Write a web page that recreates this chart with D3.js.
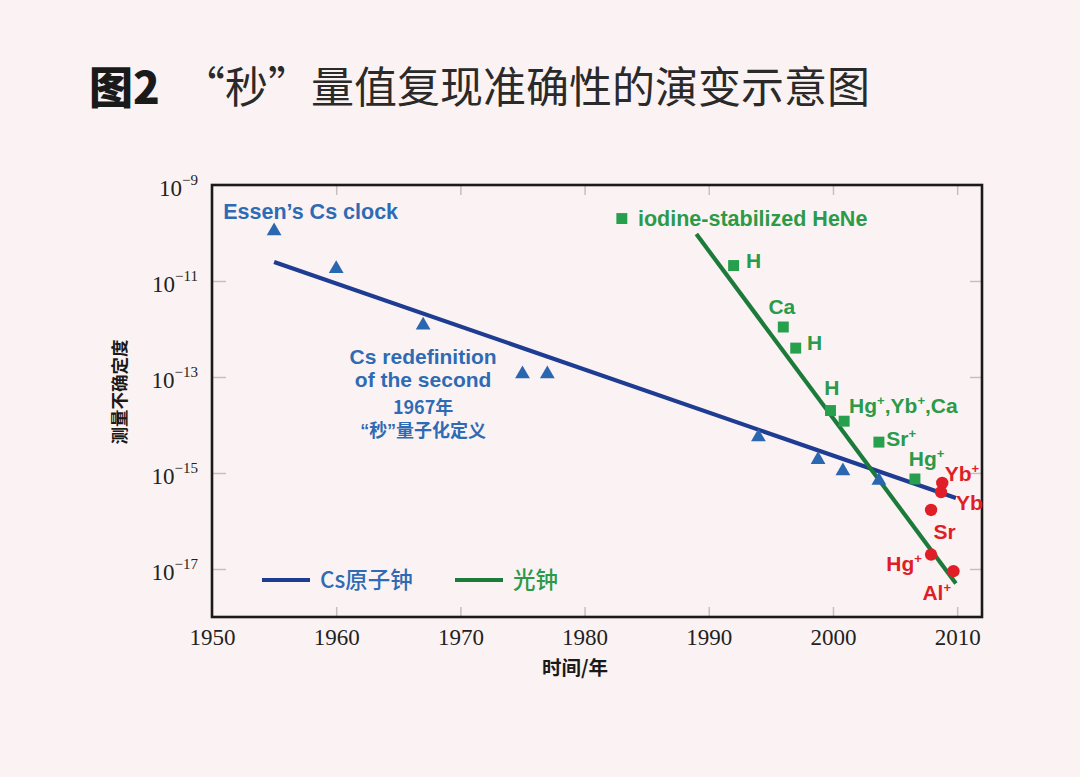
<!DOCTYPE html>
<html><head><meta charset="utf-8">
<script src="https://cdn.jsdelivr.net/npm/d3@7"></script>
<style>
html,body{margin:0;padding:0;background:#fbf3f3;}
svg{display:block;}
</style></head>
<body>
<svg id="chart" width="1080" height="777"></svg>
<script>
// ---- data ----
const xTicks = [1950, 1960, 1970, 1980, 1990, 2000, 2010];
const yTickExps = [-9, -11, -13, -15, -17];

const csYears  = [1955, 1960, 1967, 1975, 1977, 1994, 1998.8, 2000.8, 2003.7];
const csValues = [1.1e-10, 1.8e-11, 1.2e-12, 1.15e-13, 1.15e-13, 5.6e-15, 1.9e-15, 1.1e-15, 7e-16];
const csFitYears  = [1955, 2009.9];
const csFitValues = [2.5e-11, 3.0e-16];

const optYears  = [1983, 1992, 1996, 1997, 1999.8, 2000.9, 2003.7, 2006.6];
const optValues = [2.0e-10, 2.1e-11, 1.1e-12, 4.0e-13, 2.0e-14, 1.2e-14, 4.4e-15, 7.5e-16];
const optLabels = ["iodine-stabilized HeNe", "H", "Ca", "H", "H", "Hg⁺,Yb⁺,Ca", "Sr⁺", "Hg⁺"];

const redYears  = [2008.8, 2008.7, 2007.9, 2007.9, 2009.7];
const redValues = [6.2e-16, 4.0e-16, 1.7e-16, 2.0e-17, 9.0e-18];
const redLabels = ["Yb⁺", "Yb", "Sr", "Hg⁺", "Al⁺"];

const optFitYears  = [1989, 2009.9];
const optFitValues = [9.5e-11, 5.0e-18];

const legendLabels = ["Cs原子钟", "光钟"];
const titleBold = "图2";
const titleText = "“秒”量值复现准确性的演变示意图";
const yTitle = "测量不确定度";
const xTitle = "时间/年";

// annotation anchors in data units (year, value)
const annotations = [
  {t:"Essen’s Cs clock", yr:1950.9, v:2.9e-10, c:"blue", a:"start", s:21.5},
  {t:"Cs redefinition", yr:1967, v:2.7e-13, c:"blue", a:"middle", s:21},
  {t:"of the second", yr:1967, v:9.1e-14, c:"blue", a:"middle", s:21},
  {t:"1967年", yr:1967, v:2.26e-14, c:"blue", a:"middle", s:18},
  {t:"“秒”量子化定义", yr:1967, v:7.5e-15, c:"blue", a:"middle", s:18, lat:true},
  {t:"iodine-stabilized HeNe", yr:1984.3, v:2.0e-10, c:"green", a:"start", s:21.5},
  {t:"H", yr:1993, v:2.7e-11, c:"green", a:"start", s:21},
  {t:"Ca", yr:1994.8, v:2.9e-12, c:"green", a:"start", s:21},
  {t:"H", yr:1997.9, v:5.3e-13, c:"green", a:"start", s:21},
  {t:"H", yr:1999.3, v:6.0e-14, c:"green", a:"start", s:21},
  {t:"Hg⁺,Yb⁺,Ca", yr:2001.3, v:2.6e-14, c:"green", a:"start", s:21},
  {t:"Sr⁺", yr:2004.3, v:5.2e-15, c:"green", a:"start", s:21},
  {t:"Hg⁺", yr:2006.1, v:2.0e-15, c:"green", a:"start", s:21},
  {t:"Yb⁺", yr:2009.0, v:1.0e-15, c:"red", a:"start", s:21},
  {t:"Yb", yr:2009.9, v:2.4e-16, c:"red", a:"start", s:21},
  {t:"Sr", yr:2008.1, v:6.2e-17, c:"red", a:"start", s:21},
  {t:"Hg⁺", yr:2004.3, v:1.33e-17, c:"red", a:"start", s:21},
  {t:"Al⁺", yr:2007.2, v:3.2e-18, c:"red", a:"start", s:21}
];

// ---- styles ----
const COL = {
  blueLine:"#1d3c92", blueMark:"#2b67b1", blueText:"#2f6bb4",
  greenLine:"#1c7b3b", greenMark:"#26a04c", greenText:"#2b9a49",
  red:"#e01e28", frame:"#1a1a1a", tick:"#c4c0c0", text:"#222"
};
const colorOf = {blue:COL.blueText, green:COL.greenText, red:COL.red};
const latin = "'Liberation Sans', Arial, 'Noto Sans CJK SC', sans-serif";
const cjk = "'Noto Sans CJK SC', 'Liberation Sans', sans-serif";
const serif = "'Liberation Serif', 'Times New Roman', serif";

const svg = d3.select("#chart");
svg.append("rect").attr("width",1080).attr("height",777).attr("fill","#fbf3f3");

const L = 212, R = 982, T = 185, B = 617;
const x = d3.scaleLinear().domain([1950, 2012]).range([L, R]);
const y = d3.scaleLog().domain([1e-18, 1e-9]).range([B, T]);

// title
svg.append("text").attr("x", 89).attr("y", 104)
  .attr("font-family", cjk).attr("font-weight", 900).attr("font-size", 44)
  .attr("fill", "#1a1a1a").text(titleBold);
svg.append("text").attr("x", 182).attr("y", 103)
  .attr("font-family", cjk).attr("font-weight", 400).attr("font-size", 43)
  .attr("fill", "#2a2a2a").text(titleText);

// inner ticks
const g = svg.append("g");
const xt = xTicks.filter(d => d > 1950);
g.append("g").attr("transform", `translate(0,${B})`)
  .call(d3.axisTop(x).tickValues(xt).tickSize(10).tickFormat(""))
  .call(s => { s.select(".domain").remove(); s.selectAll("line").attr("stroke", COL.tick).attr("stroke-width", 1.5); });
g.append("g").attr("transform", `translate(0,${T})`)
  .call(d3.axisBottom(x).tickValues(xt).tickSize(10).tickFormat(""))
  .call(s => { s.select(".domain").remove(); s.selectAll("line").attr("stroke", COL.tick).attr("stroke-width", 1.5); });
const yv = yTickExps.map(e => Math.pow(10, e)).filter(v => v < 1e-9);
g.append("g").attr("transform", `translate(${L},0)`)
  .call(d3.axisRight(y).tickValues(yv).tickSize(14).tickFormat(""))
  .call(s => { s.select(".domain").remove(); s.selectAll("line").attr("stroke", COL.tick).attr("stroke-width", 1.5); });
g.append("g").attr("transform", `translate(${R},0)`)
  .call(d3.axisLeft(y).tickValues(yv).tickSize(12).tickFormat(""))
  .call(s => { s.select(".domain").remove(); s.selectAll("line").attr("stroke", COL.tick).attr("stroke-width", 1.5); });

// frame
svg.append("rect").attr("x", L).attr("y", T).attr("width", R - L).attr("height", B - T)
  .attr("fill", "none").attr("stroke", COL.frame).attr("stroke-width", 2.6);

// x tick labels
const xl = svg.append("g").attr("transform", `translate(0,${B})`)
  .call(d3.axisBottom(x).tickValues(xTicks).tickSize(0).tickPadding(0).tickFormat(d3.format("d")));
xl.select(".domain").remove();
xl.selectAll("text").attr("font-family", serif).attr("font-size", 23).attr("fill", COL.text)
  .attr("dy", null).attr("y", 28);

// y tick labels
const yl = svg.append("g").attr("transform", `translate(${L},0)`)
  .call(d3.axisLeft(y).tickValues(yTickExps.map(e => Math.pow(10, e))).tickSize(0).tickFormat(""));
yl.select(".domain").remove();
yl.selectAll(".tick").each(function(d) {
  const e = Math.round(Math.log10(d));
  const t = d3.select(this).select("text").text(null)
    .attr("x", -14).attr("dy", null).attr("y", 10).attr("text-anchor", "end")
    .attr("font-family", serif).attr("fill", COL.text);
  t.append("tspan").attr("font-size", 23).text("10");
  t.append("tspan").attr("font-size", 15).attr("dy", -11).text("−" + Math.abs(e));
});

// fit lines
const line = d3.line().x(d => x(d[0])).y(d => y(d[1]));
svg.append("path").datum(d3.zip(csFitYears, csFitValues)).attr("d", line)
  .attr("stroke", COL.blueLine).attr("stroke-width", 4.2).attr("fill", "none");
svg.append("path").datum(d3.zip(optFitYears, optFitValues)).attr("d", line)
  .attr("stroke", COL.greenLine).attr("stroke-width", 4.2).attr("fill", "none");

// markers
const tri = d3.symbol().type(d3.symbolTriangle).size(95);
svg.append("g").selectAll("path").data(d3.zip(csYears, csValues)).join("path")
  .attr("d", tri).attr("transform", d => `translate(${x(d[0])},${y(d[1])})`)
  .attr("fill", COL.blueMark);
const sq = d3.symbol().type(d3.symbolSquare).size(120);
svg.append("g").selectAll("path").data(d3.zip(optYears, optValues)).join("path")
  .attr("d", sq).attr("transform", d => `translate(${x(d[0])},${y(d[1])})`)
  .attr("fill", COL.greenMark);
svg.append("g").selectAll("circle").data(d3.zip(redYears, redValues)).join("circle")
  .attr("cx", d => x(d[0])).attr("cy", d => y(d[1])).attr("r", 6.2)
  .attr("fill", COL.red);

// annotation text with superscript "+"
function addLabel(sel, a) {
  const fam = a.lat ? latin : (/[\u4e00-\u9fff“”]/.test(a.t) ? cjk : latin);
  const t = sel.append("text").attr("x", x(a.yr)).attr("y", y(a.v)).attr("dy", "0.36em")
    .attr("text-anchor", a.a).attr("font-family", fam)
    .attr("font-weight", 700).attr("font-size", a.s).attr("fill", colorOf[a.c]);
  const parts = a.t.split(/(⁺)/);
  let sup = false;
  parts.forEach(p => {
    if (!p) return;
    if (p === "⁺") {
      t.append("tspan").attr("font-size", a.s * 0.62).attr("dy", -a.s * 0.38).text("+");
      sup = true;
    } else {
      const ts = t.append("tspan").text(p);
      if (sup) { ts.attr("dy", a.s * 0.38); sup = false; }
    }
  });
}
const ann = svg.append("g");
annotations.forEach(a => addLabel(ann, a));

// legend
const lg = svg.append("g");
const legendCols = [COL.blueLine, COL.greenLine];
const legendText = [COL.blueText, COL.greenText];
const legendX = [262, 455];
legendLabels.forEach((lab, i) => {
  lg.append("line").attr("x1", legendX[i]).attr("x2", legendX[i] + 48)
    .attr("y1", 580).attr("y2", 580).attr("stroke", legendCols[i]).attr("stroke-width", 4.2);
  lg.append("text").attr("x", legendX[i] + 58).attr("y", 580).attr("dy", "0.36em")
    .attr("font-family", cjk).attr("font-weight", 500).attr("font-size", 22.5)
    .attr("fill", legendText[i]).text(lab);
});

// axis titles
svg.append("text").attr("transform", "translate(120,392) rotate(-90)")
  .attr("text-anchor", "middle").attr("dy", "0.36em")
  .attr("font-family", cjk).attr("font-weight", 700).attr("font-size", 17.5)
  .attr("fill", "#1a1a1a").text(yTitle);
svg.append("text").attr("x", 575).attr("y", 668).attr("dy", "0.36em")
  .attr("text-anchor", "middle")
  .attr("font-family", cjk).attr("font-weight", 700).attr("font-size", 19.5)
  .attr("fill", "#1a1a1a").text(xTitle);
</script>
</body></html>
